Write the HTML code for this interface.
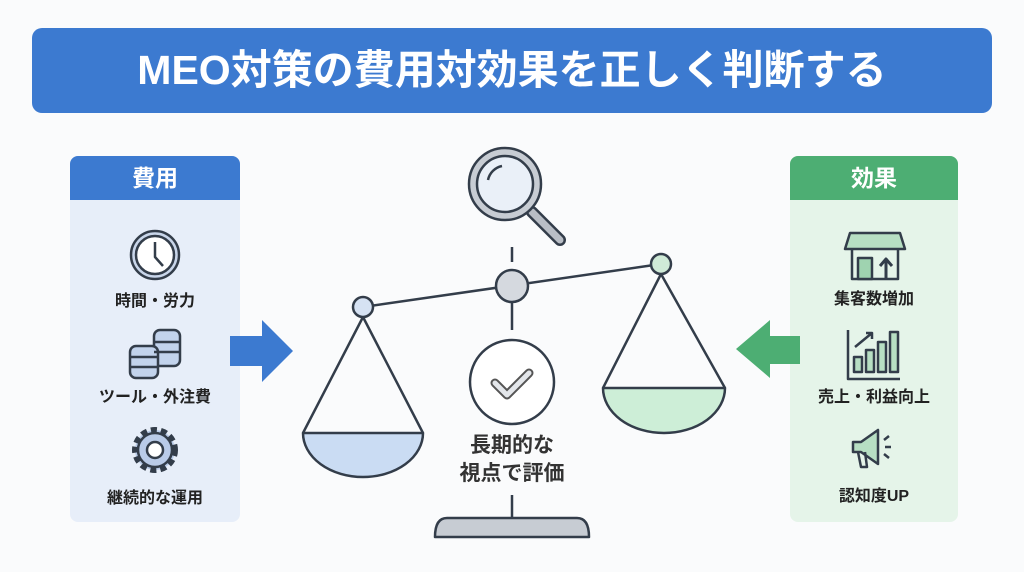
<!DOCTYPE html>
<html><head><meta charset="utf-8"><style>
body{margin:0;width:1024px;height:572px;background:#fafbfc;font-family:"Liberation Sans","Noto Sans CJK JP",sans-serif;position:relative;overflow:hidden}
.t{position:absolute;left:32px;top:28px;width:960px;height:85px;background:#3c7ad0;border-radius:10px;color:#fff;font-size:41px;font-weight:bold;text-align:center;line-height:85px}
.p{position:absolute;top:156px;width:170px;height:366px;border-radius:8px;overflow:hidden}
.h{height:44px;line-height:44px;color:#fff;font-size:23px;font-weight:bold;text-align:center}
.l{position:absolute;width:100%;text-align:center;font-size:16px;font-weight:bold;color:#222}
svg{position:absolute;left:0;top:0}
</style></head><body>
<div class="t">MEO対策の費用対効果を正しく判断する</div>
<div class="p" style="left:70px;background:#e7eef9"><div class="h" style="background:#3c7ad0">費用</div>
<div class="l" style="top:131px">時間・労力</div><div class="l" style="top:227px">ツール・外注費</div><div class="l" style="top:328px">継続的な運用</div></div>
<div class="p" style="left:790px;width:168px;background:#e5f4e9"><div class="h" style="background:#4dae73">効果</div>
<div class="l" style="top:129px">集客数増加</div><div class="l" style="top:227px">売上・利益向上</div><div class="l" style="top:326px">認知度UP</div></div>
<svg width="1024" height="572" fill="none" stroke="#333d4a" stroke-width="2.5" stroke-linejoin="round">
<polygon points="230,336 262,336 262,320 293,351 262,382 262,366 230,366" fill="#3c7ad0" stroke="none"/>
<polygon points="800,336 770,336 770,320 736,349 770,378 770,364 800,364" fill="#4dae73" stroke="none"/>
<circle cx="155" cy="255" r="24" fill="#c9d6ea"/><circle cx="155" cy="255" r="19" fill="#fff"/><path d="M155 242 V257 L163 266"/>
<g fill="#c2d3ec"><rect x="154" y="330" width="26" height="36" rx="6"/><rect x="130" y="346" width="28" height="32" rx="6"/></g>
<path d="M154 342h26M154 352h26M130 357h28M130 367h28"/>
<circle cx="155" cy="450" r="20" fill="#b9cbe8" stroke-dasharray="6 4" stroke-width="6"/><circle cx="155" cy="450" r="17" fill="#b9cbe8"/><circle cx="155" cy="450" r="8" fill="#fff"/>
<path d="M850 233h50l5 16h-60z" fill="#b7dfc3"/><path d="M852 249v30h46v-30"/><rect x="858" y="258" width="14" height="21" fill="#9fd3b0"/><path d="M886 279v-18M880 266l6-7 6 7" stroke-width="3"/>
<path d="M848 330v49h52"/><g fill="#b7dfc3"><rect x="854" y="357" width="8" height="15"/><rect x="866" y="350" width="8" height="22"/><rect x="878" y="342" width="8" height="30"/><rect x="890" y="332" width="8" height="40"/></g><path d="M855 347l17-14M866 333h6v6"/>
<path d="M853 442h8l17-12v34l-17-12h-8z" fill="#b7dfc3"/><path d="M858 452l3 15h6l-2-15M884 440l5-4M885 447h6M884 454l5 4"/>
<path d="M512 247v15M512 302v28M363 307L661 264"/>
<circle cx="512" cy="286" r="16" fill="#d5d9df"/>
<circle cx="363" cy="307" r="10" fill="#d6e2f3"/><circle cx="661" cy="264" r="10" fill="#cfead7"/>
<path d="M363 317L303 433M363 317L423 433M661 274L603 388M661 274L725 388"/>
<path d="M303 433h120a60 44 0 0 1 -120 0z" fill="#cadcf3"/><path d="M603 388h122a61 45 0 0 1 -122 0z" fill="#cdeed7"/>
<circle cx="512" cy="382" r="42" fill="#fff"/><path d="M495 383l12 12 22-22" stroke="#555" stroke-width="9" stroke-linecap="round"/><path d="M495 383l12 12 22-22" stroke="#e3e6ea" stroke-width="5" stroke-linecap="round"/>
<path d="M512 495v23"/><path d="M447 518h130q12 0 12 19h-154q0-19 12-19z" fill="#c7ccd3"/>
<path d="M532 212l28 28" stroke="#333d4a" stroke-width="12" stroke-linecap="round"/><path d="M532 212l28 28" stroke="#b9bec6" stroke-width="7" stroke-linecap="round"/>
<circle cx="505" cy="184" r="36" fill="#c7ccd3"/><circle cx="505" cy="184" r="28" fill="#eaf0f8"/><path d="M488 180a18 18 0 0 1 14-14"/>
</svg>
<div style="position:absolute;left:412px;top:432px;width:200px;text-align:center;font-size:21px;font-weight:bold;color:#333;line-height:28px">長期的な<br>視点で評価</div>
</body></html>
